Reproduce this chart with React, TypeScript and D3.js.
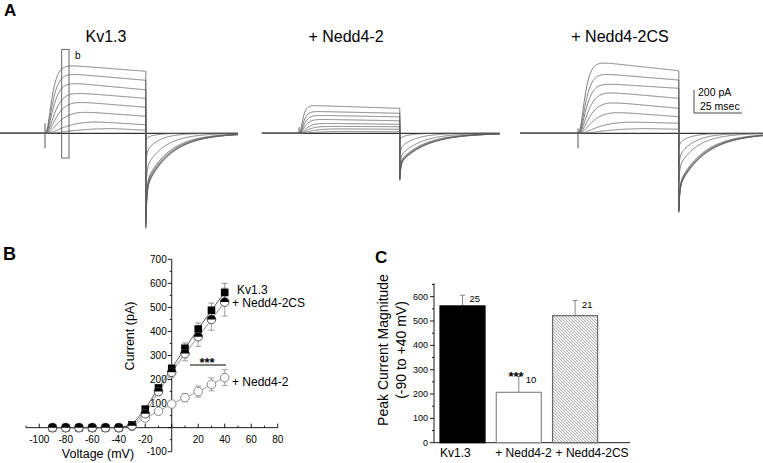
import React from "react";
import * as d3 from "d3";

const FONT = "Arial, 'Liberation Sans', Helvetica, sans-serif";

// ---------- Panel A: whole-cell current traces (pA), +40 mV down to -30 mV ----------
const panelTitles = ["Kv1.3", "+ Nedd4-2", "+ Nedd4-2CS"];

const kvPeak = [596, 522, 443, 357, 278, 191, 104, 43];
const kvEnd = [539, 461, 378, 304, 226, 148, 74, 26];
const kvRise = [9, 10, 11, 13, 15, 18, 25, 35];
const kvTail = [480, 470, 458, 445, 430, 300, 160, 40];
const kvTailTau = [13, 13, 13, 12.5, 12, 10, 7, 5];

const nPeak = [243, 191, 157, 122, 87, 61, 39, 17];
const nEnd = [217, 174, 143, 109, 78, 57, 35, 13];
const nRise = [5, 6, 7, 8, 10, 12, 16, 22];
const nTail = [265, 260, 255, 250, 240, 200, 130, 40];
const nTailTau = [14, 14, 14, 13.5, 13, 11, 8, 5];

const csPeak = [623, 522, 435, 362, 275, 188, 101, 43];
const csEnd = [544, 463, 391, 304, 217, 144, 87, 35];
const csRise = [9, 10, 11, 13, 15, 18, 25, 35];
const csTail = [470, 465, 458, 450, 440, 290, 200, 87];
const csTailTau = [14, 14, 14, 13.5, 13, 10, 8, 6];

const tailSpike = [346, 144, 217];
const onsetUp = [87, 52, 43];
const onsetDown = [130, 0, 130];
const preMs = [23.4, 19.3, 30.2];
const postMs = [48, 52, 44];
const stepMs = 52.5;
const scaleBarValues = [200, 25]; // pA, msec
const boxTimes = [8.7, 12.5];
const boxCurrents = [-215, 730];

// ---------- Panel B: I-V relationship ----------
const voltages = [-90, -80, -70, -60, -50, -40, -30, -20, -10, 0, 10, 20, 30, 40];
const kvI = [0, 0, 0, 0, 0, 0, 12, 77, 165, 246, 330, 410, 488, 562];
const kvErr = [0, 0, 0, 0, 0, 0, 3, 8, 12, 15, 22, 25, 30, 38];
const csI = [0, 0, 0, 0, 0, 0, 8, 58, 150, 230, 308, 378, 450, 522];
const csErr = [0, 0, 0, 0, 0, 0, 3, 8, 15, 20, 30, 40, 45, 58];
const nI = [0, 0, 0, 0, 0, 0, 5, 40, 68, 98, 125, 150, 180, 208];
const nErr = [0, 0, 0, 0, 0, 0, 2, 6, 8, 10, 17, 23, 27, 33];
const ivXTicks = [-100, -80, -60, -40, -20, 20, 40, 60, 80];
const ivYTicks = [-100, 100, 200, 300, 400, 500, 600, 700];

// ---------- Panel C: peak current bars ----------
const barLabels = ["Kv1.3", "+ Nedd4-2", "+ Nedd4-2CS"];
const barValues = [562, 207, 522];
const barErr = [44, 66, 62];
const barN = ["25", "10", "21"];
const barYTicks = [0, 100, 200, 300, 400, 500, 600];

function App() {
  // ---------------- Panel A ----------------
  const yT = d3.scaleLinear().domain([0, 200]).range([133.3, 110.3]);
  const pxPerMs = 1.92;
  const stepX = [45, 299, 578];
  const tracesData = [
    { peak: kvPeak, end: kvEnd, rise: kvRise, tail: kvTail, tau: kvTailTau },
    { peak: nPeak, end: nEnd, rise: nRise, tail: nTail, tau: nTailTau },
    { peak: csPeak, end: csEnd, rise: csRise, tail: csTail, tau: csTailTau },
  ];
  const titleX = [106, 346, 620];

  const line = d3.line<[number, number]>();

  const panelA = tracesData.map((p, pi) => {
    const x = d3
      .scaleLinear()
      .domain([0, 25])
      .range([stepX[pi], stepX[pi] + 25 * pxPerMs]);
    const pre = preMs[pi];
    const post = postMs[pi];
    const A0 = p.tail[0];
    const paths = p.peak.map((peak, i) => {
      const end = p.end[i];
      const rise = p.rise[i];
      const tau = rise / 4;
      const pts: [number, number][] = [];
      pts.push([x(-pre), yT(0)]);
      pts.push([x(0), yT(0)]);
      for (let t = 0.25; t <= stepMs + 1e-6; t += 0.25) {
        const plateau = t <= rise ? peak : peak + ((end - peak) * (t - rise)) / (stepMs - rise);
        pts.push([x(t), yT(plateau * Math.pow(1 - Math.exp(-t / tau), 3))]);
      }
      for (let s = 0; s <= post + 1e-6; s += 0.25) {
        const v = -(p.tail[i] * Math.exp(-s / p.tau[i]) + tailSpike[pi] * (p.tail[i] / A0) * Math.exp(-s / 0.5));
        pts.push([x(stepMs + s), yT(v)]);
      }
      return line(pts) as string;
    });
    return (
      <g key={pi}>
        <text x={titleX[pi]} y={41.5} textAnchor="middle" fontSize={16} fontFamily={FONT}>
          {panelTitles[pi]}
        </text>
        <line x1={x(-pre)} x2={x(stepMs + post)} y1={yT(0)} y2={yT(0)} stroke="#333" strokeWidth={1.3} />
        <line x1={x(0)} x2={x(0)} y1={yT(onsetUp[pi])} y2={yT(-onsetDown[pi])} stroke="#444" strokeWidth={0.9} />
        {paths.map((d, i) => (
          <path key={i} d={d} fill="none" stroke="#5e5e5e" strokeWidth={0.8} />
        ))}
        {pi === 0 && (
          <g>
            <rect
              x={x(boxTimes[0])}
              y={yT(boxCurrents[1])}
              width={x(boxTimes[1]) - x(boxTimes[0])}
              height={yT(boxCurrents[0]) - yT(boxCurrents[1])}
              fill="none"
              stroke="#555"
              strokeWidth={0.9}
            />
            <text x={x(boxTimes[1]) + 6} y={59} fontSize={10} fontFamily={FONT}>
              b
            </text>
          </g>
        )}
      </g>
    );
  });

  // scale bar
  const sbX0 = 694;
  const sbY0 = 113;
  const sbV = sbY0 - (yT(0) - yT(scaleBarValues[0]));
  const sbH = sbX0 + scaleBarValues[1] * pxPerMs;

  // ---------------- Panel B ----------------
  const xB = d3.scaleLinear().domain([-110, 80]).range([26, 277.7]);
  const yB = d3.scaleLinear().domain([-100, 700]).range([451.7, 259.3]);
  const x0 = xB(0);
  const y0 = yB(0);
  const ivLine = d3
    .line<number>()
    .x((_, i) => xB(voltages[i]))
    .y((d) => yB(d));
  const xMinor = d3.range(-110, 81, 10);
  const yMinor = d3.range(-100, 701, 50);

  const errBars = (vals: number[], errs: number[], color: string, key: string) =>
    vals.map((v, i) =>
      errs[i] > 4 ? (
        <g key={key + i} stroke={color} strokeWidth={0.8}>
          <line x1={xB(voltages[i])} x2={xB(voltages[i])} y1={yB(v - errs[i])} y2={yB(v + errs[i])} />
          <line x1={xB(voltages[i]) - 3} x2={xB(voltages[i]) + 3} y1={yB(v + errs[i])} y2={yB(v + errs[i])} />
          <line x1={xB(voltages[i]) - 3} x2={xB(voltages[i]) + 3} y1={yB(v - errs[i])} y2={yB(v - errs[i])} />
        </g>
      ) : null
    );

  const r = 4.3;
  const halfTop = (cx: number, cy: number) => `M${cx - r},${cy} A${r},${r} 0 0 1 ${cx + r},${cy} Z`;

  // ---------------- Panel C ----------------
  const xC = d3.scaleBand<string>().domain(barLabels).range([440, 597.6]).paddingInner(0.2).paddingOuter(0);
  const yC = d3.scaleLinear().domain([0, 650]).range([442.7, 284.5]);
  const cMinor = d3.range(0, 651, 50);
  const barFill = ["#000", "#fff", "url(#hatch)"];
  const barStroke = ["#000", "#8a8a8a", "#6a6a6a"];
  const labelDx = [0, -1, 3];

  return (
    <svg
      width={763}
      height={463}
      style={{ position: "absolute", left: 0, top: 0, background: "#fff" }}
      fontFamily={FONT}
    >
      <defs>
        <pattern id="hatch" patternUnits="userSpaceOnUse" width={3} height={3}>
          <rect width={3} height={3} fill="#f4f4f4" />
          <path d="M0,0 L3,3 M-1,2 L1,4 M2,-1 L4,1" stroke="#8c8c8c" strokeWidth={0.7} />
        </pattern>
      </defs>

      {/* Panel letters */}
      <text x={4} y={15.5} fontSize={17} fontWeight="bold">A</text>
      <text x={3} y={260} fontSize={18} fontWeight="bold">B</text>
      <text x={375} y={263} fontSize={17} fontWeight="bold">C</text>

      {/* Panel A */}
      {panelA}
      <g stroke="#333" strokeWidth={0.9}>
        <line x1={sbX0} x2={sbX0} y1={sbV} y2={sbY0} />
        <line x1={sbX0} x2={sbH} y1={sbY0} y2={sbY0} />
      </g>
      <text x={sbX0 + 4} y={95.5} fontSize={10.5}>{scaleBarValues[0]} pA</text>
      <text x={sbX0 + 6} y={110} fontSize={10.5}>{scaleBarValues[1]} msec</text>

      {/* Panel B axes */}
      <g stroke="#000" strokeWidth={0.9}>
        <line x1={xB(-110)} x2={xB(80)} y1={y0} y2={y0} />
        <line x1={x0} x2={x0} y1={yB(-100)} y2={yB(700)} />
        {xMinor.map((v) => (
          <line key={"xm" + v} x1={xB(v)} x2={xB(v)} y1={y0} y2={y0 - (v % 20 === 0 ? 4 : 2)} />
        ))}
        {yMinor.map((v) => (
          <line key={"ym" + v} x1={x0} x2={x0 - (v % 100 === 0 ? 4 : 2)} y1={yB(v)} y2={yB(v)} />
        ))}
      </g>
      {ivXTicks.map((v) => (
        <text key={"xt" + v} x={xB(v)} y={443} fontSize={10} textAnchor="middle">{v}</text>
      ))}
      {ivYTicks.map((v) => (
        <text key={"yt" + v} x={x0 - 5} y={yB(v) + 3.5} fontSize={10} textAnchor="end">{v}</text>
      ))}
      <text x={98} y={458} fontSize={12.5} textAnchor="middle">Voltage (mV)</text>
      <text transform={`translate(134,336) rotate(-90)`} fontSize={12.5} textAnchor="middle">Current (pA)</text>

      {/* Panel B data */}
      <path d={ivLine(nI) as string} fill="none" stroke="#8a8a8a" strokeWidth={0.8} />
      <path d={ivLine(csI) as string} fill="none" stroke="#777" strokeWidth={0.8} />
      <path d={ivLine(kvI) as string} fill="none" stroke="#333" strokeWidth={0.8} />
      {errBars(nI, nErr, "#8a8a8a", "n")}
      {errBars(csI, csErr, "#8a8a8a", "c")}
      {errBars(kvI, kvErr, "#777", "k")}
      {nI.map((v, i) => (
        <circle key={"nc" + i} cx={xB(voltages[i])} cy={yB(v)} r={r} fill="#fff" stroke="#7a7a7a" strokeWidth={0.9} />
      ))}
      {kvI.map((v, i) => (
        <rect key={"ks" + i} x={xB(voltages[i]) - 3.8} y={yB(v) - 3.8} width={7.6} height={7.6} fill="#000" />
      ))}
      {csI.map((v, i) => (
        <g key={"cc" + i}>
          <circle cx={xB(voltages[i])} cy={yB(v)} r={r} fill="#fff" stroke="#444" strokeWidth={0.9} />
          <path d={halfTop(xB(voltages[i]), yB(v))} fill="#000" />
        </g>
      ))}
      <text x={237} y={294} fontSize={12}>Kv1.3</text>
      <text x={232} y={307} fontSize={12}>+ Nedd4-2CS</text>
      <text x={232} y={386} fontSize={12}>+ Nedd4-2</text>
      <text x={207} y={367} fontSize={13} fontWeight="bold" textAnchor="middle">***</text>
      <line x1={190} x2={226} y1={365} y2={365} stroke="#000" strokeWidth={1} />

      {/* Panel C axes */}
      <g stroke="#000" strokeWidth={0.9}>
        <line x1={434} x2={630} y1={yC(0)} y2={yC(0)} />
        <line x1={434} x2={434} y1={yC(0)} y2={yC(655)} />
        {cMinor.map((v) => (
          <line key={"cm" + v} x1={434} x2={434 - (v % 100 === 0 ? 4 : 2)} y1={yC(v)} y2={yC(v)} />
        ))}
      </g>
      {barYTicks.map((v) => (
        <text key={"ct" + v} x={428} y={yC(v) + 3} fontSize={9} textAnchor="end">{v}</text>
      ))}
      <text transform="translate(383,350) rotate(-90)" fontSize={14} textAnchor="middle" dy="0.35em">
        Peak Current Magnitude
      </text>
      <text transform="translate(401,350) rotate(-90)" fontSize={14} textAnchor="middle" dy="0.35em">
        (-90 to +40 mV)
      </text>
      {barLabels.map((lab, i) => {
        const bx = xC(lab) as number;
        const bw = xC.bandwidth();
        const cx = bx + bw / 2;
        const top = yC(barValues[i]);
        const et = yC(barValues[i] + barErr[i]);
        return (
          <g key={"bar" + i}>
            <line x1={cx} x2={cx} y1={top} y2={et} stroke="#777" strokeWidth={0.9} />
            <line x1={cx - 2.5} x2={cx + 2.5} y1={et} y2={et} stroke="#777" strokeWidth={0.9} />
            <rect x={bx} y={top} width={bw} height={yC(0) - top} fill={barFill[i]} stroke={barStroke[i]} strokeWidth={1.2} />
            <text x={cx + 7} y={et + 7} fontSize={9.5}>{barN[i]}</text>
            <text x={bx + labelDx[i]} y={457} fontSize={12}>{lab}</text>
          </g>
        );
      })}
      <text x={516} y={381} fontSize={13} fontWeight="bold" textAnchor="middle">***</text>
    </svg>
  );
}

export default App;
